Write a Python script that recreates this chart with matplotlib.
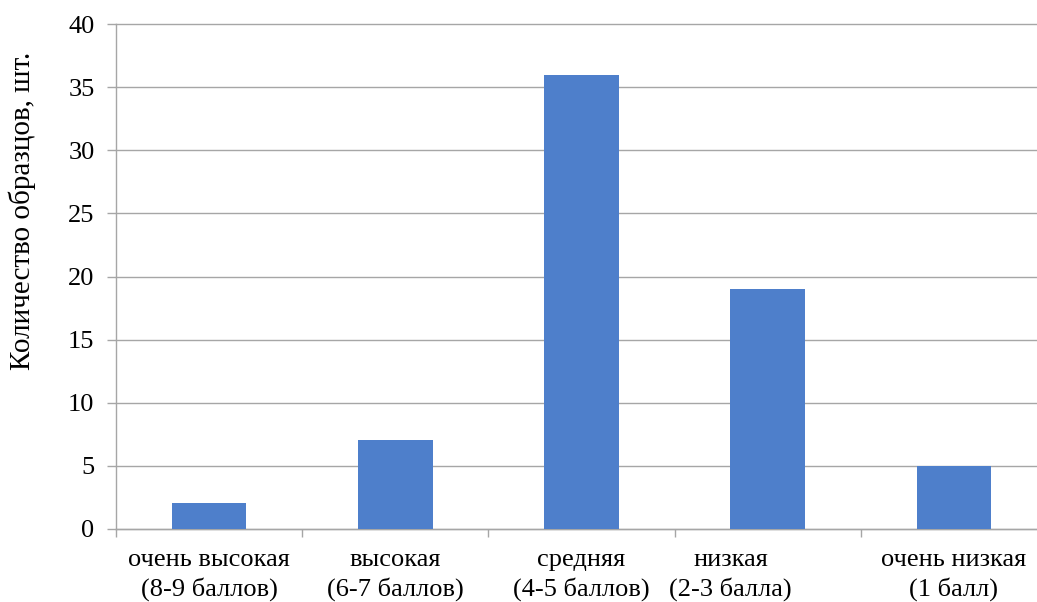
import numpy as np
import matplotlib.transforms as mtransforms
from matplotlib import pyplot as plt

categories = ["очень высокая\n(8-9 баллов)", "высокая\n(6-7 баллов)",
              "средняя\n(4-5 баллов)", "низкая\n(2-3 балла)",
              "очень низкая\n(1 балл)"]
counts = [2, 7, 36, 19, 5]
yticks = [0, 5, 10, 15, 20, 25, 30, 35, 40]

bar_color = "#4E7FCB"
grid_color = "#A6A6A6"

plt.rcParams["font.family"] = ["Liberation Serif", "DejaVu Serif"]

W, H = 1037, 602
fig = plt.figure(figsize=(W / 100, H / 100), dpi=100)
ax = fig.add_axes([116 / W, (H - 528.5) / H, (1047 - 116) / W, (528.5 - 24.5) / H])

x = np.arange(len(categories))
ax.bar(x, counts, width=0.40, color=bar_color, zorder=3)

ax.set_xlim(-0.5, len(categories) - 0.5)
ax.set_ylim(0, 40)
ax.set_yticks(yticks)
ax.grid(axis="y", color=grid_color, linewidth=1.0, zorder=0)
for gl in ax.get_ygridlines():
    gl.set_clip_on(False)

for s in ["top", "right"]:
    ax.spines[s].set_visible(False)
for s in ["left", "bottom"]:
    ax.spines[s].set_color(grid_color)
    ax.spines[s].set_linewidth(1.0)

ax.set_xticks(x)
ax.set_xticklabels(categories, fontsize=19, linespacing=1.3)
ax.tick_params(axis="x", which="major", length=0, pad=15)
ax.set_xticks(np.arange(len(categories) + 1) - 0.5, minor=True)
ax.tick_params(axis="x", which="minor", length=6, color=grid_color, width=1.0)
ax.tick_params(axis="y", length=6.5, color=grid_color, width=1.0, labelsize=19, pad=9)

# the "низкая" label sits left of its category centre in the original
lbl = ax.get_xticklabels()[3]
lbl.set_transform(lbl.get_transform() +
                  mtransforms.ScaledTranslation(-37 / 100, 0, fig.dpi_scale_trans))

fig.text(22 / W, 1 - 211 / H, "Количество образцов, шт.", rotation=90,
         ha="center", va="center", fontsize=21)

plt.savefig("out.png", dpi=100)
